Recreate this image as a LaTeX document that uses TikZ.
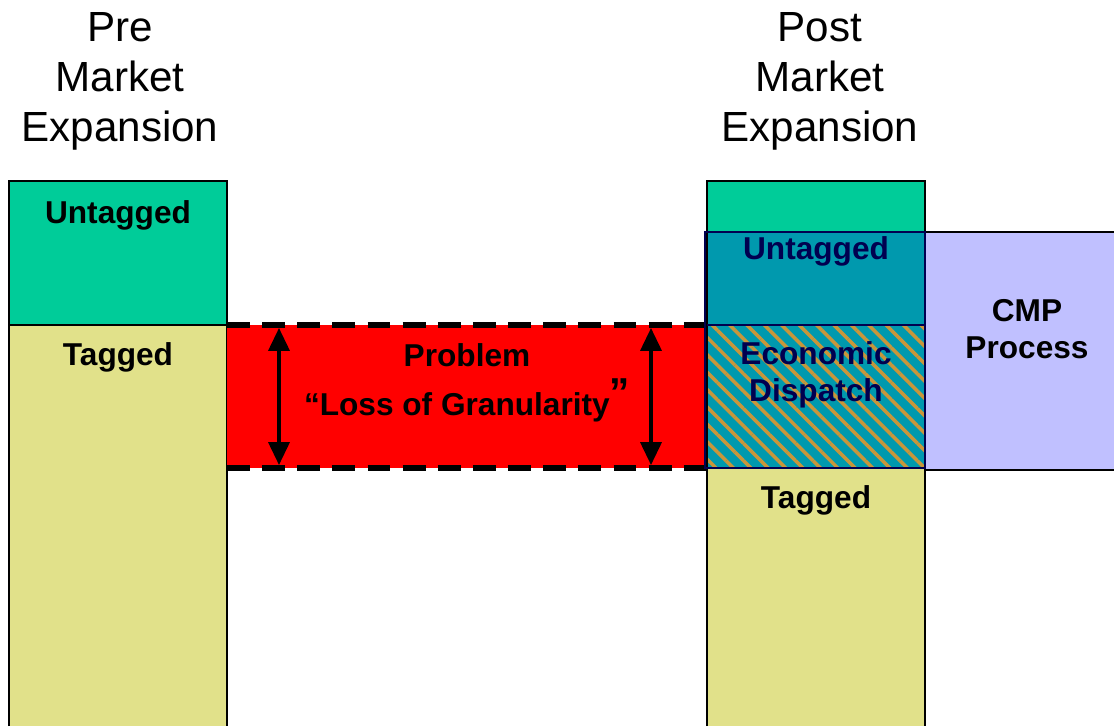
\documentclass[tikz,border=0pt]{standalone}
\usepackage{fontspec}
\setmainfont{Liberation Sans}
\usetikzlibrary{arrows.meta,patterns.meta}
\definecolor{untag}{HTML}{00CC99}
\definecolor{untagdark}{HTML}{0099AE}
\definecolor{tagcol}{HTML}{E1E18A}
\definecolor{cmpcol}{HTML}{C0C0FF}
\definecolor{stripe}{HTML}{C9963A}
\definecolor{navy}{HTML}{000050}
\tikzset{
  title/.style={align=center, font=\fontsize{24}{28.5}\selectfont},
  lbl/.style={align=center, font=\fontsize{18}{21}\selectfont\bfseries},
  box/.style={draw=black, line width=0.8pt},
  band/.style={line width=3pt, dash pattern=on 13pt off 7pt},
  gap/.style={{Triangle[length=13pt,width=12pt]}-{Triangle[length=13pt,width=12pt]}, line width=1.8pt}
}
\begin{document}
\begin{tikzpicture}[x=0.02cm, y=-0.02cm]
\useasboundingbox (0,0) rectangle (1114,726);

% titles
\node[title] (pre) at (120,81) {Pre\\Market\\Expansion};
\node[title] (post) at (820,81) {Post\\Market\\Expansion};

% pre market column
\fill[untag] (9,181) rectangle (227,325);
\fill[tagcol] (9,325) rectangle (227,726);
\draw[box] (9,726) -- (9,181) -- (227,181) -- (227,726);
\draw[box] (9,325) -- (227,325);
\node[lbl] (preuntag) at (118,215) {Untagged};
\node[lbl] (pretag) at (118,357) {Tagged};

% problem band
\fill[red] (227,325) rectangle (707,468);
\draw[band] (227,325) -- (707,325);
\draw[band] (227,468) -- (707,468);
\coordinate (la) at (279,328);
\coordinate (lb) at (279,465);
\coordinate (ra) at (651,328);
\coordinate (rb) at (651,465);
\draw[gap] (la) -- (lb);
\draw[gap] (ra) -- (rb);
\node[lbl] (prob) at (467,355) {Problem};
\node[lbl] (loss) at (467,400) {“Loss of Granularity\raisebox{5pt}{\fontsize{23}{23}\selectfont ”}};

% CMP process
\fill[cmpcol] (925,232) rectangle (1114,470);
\draw[box] (1114,232) -- (925,232) -- (925,470) -- (1114,470);
\node[lbl] (cmp) at (1027,329) {CMP\\Process};

% post market column
\fill[untag] (707,181) rectangle (925,232);
\fill[untagdark] (707,232) rectangle (925,325);
\fill[untagdark] (707,325) rectangle (925,468);
\fill[pattern={Lines[angle=-45, distance=7pt, line width=2pt]}, pattern color=stripe] (707,325) rectangle (925,468);
\fill[tagcol] (707,468) rectangle (925,726);
\draw[box] (707,726) -- (707,181) -- (925,181) -- (925,726);
\draw[box] (707,468) -- (925,468);
\draw[draw=navy, line width=0.9pt] (705,232) rectangle (925,468);
\draw[draw=navy, line width=0.9pt] (707,325) -- (925,325);
\node[lbl, text=navy] (postuntag) at (816,251) {Untagged};
\node[lbl, text=navy] (ed) at (816,375) {Economic\\Dispatch};
\node[lbl] (posttag) at (816,500) {Tagged};
\end{tikzpicture}
\end{document}
